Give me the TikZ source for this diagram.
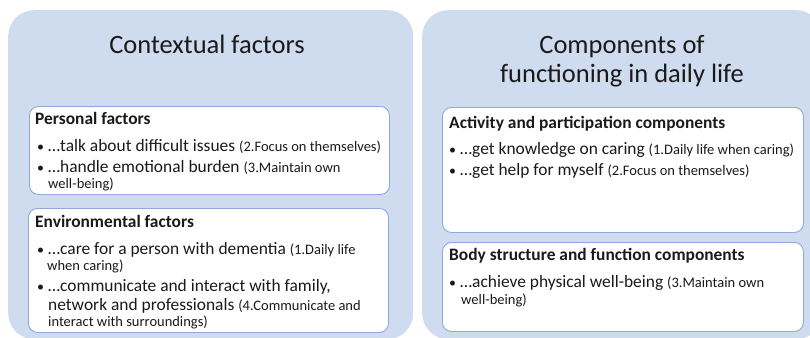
\documentclass[tikz,border=0pt]{standalone}
\usepackage{fontspec}
\setmainfont{Carlito}
\definecolor{panel}{HTML}{CFDBEE}
\definecolor{edge}{HTML}{8EA9DB}
\definecolor{ink}{HTML}{1A1A1A}
\newcommand\parsm[1]{{\fontsize{14.5}{17}\selectfont #1}}
\tikzset{
  panelbox/.style={fill=panel, draw=none, rounded corners=26pt, inner sep=0pt, anchor=north west},
  cardbox/.style={fill=white, draw=edge, line width=0.9pt, rounded corners=9pt, inner sep=0pt, anchor=north west},
  txt/.style={anchor=base west, inner sep=0pt, text=ink, font=\fontsize{17.4}{20}\selectfont},
  head/.style={txt, font=\fontsize{17.4}{20}\selectfont\bfseries},
  titletxt/.style={anchor=base, inner sep=0pt, text=ink, font=\fontsize{26.5}{30}\selectfont},
  bul/.style={anchor=base west, inner sep=0pt, text=ink, font=\fontsize{14}{16}\selectfont},
}
\begin{document}
\begin{tikzpicture}[x=1pt, y=-1pt]
\useasboundingbox (0,0) rectangle (810,337);
% panels
\node[panelbox, minimum width=405pt, minimum height=329pt] (pl) at (8,10) {};
\node[panelbox, minimum width=400pt, minimum height=329pt] (pr) at (422,10) {};
% left panel
\node[titletxt] (tl) at (207,53) {Contextual factors};
\node[cardbox, minimum width=360pt, minimum height=88pt] (cp) at (29,106) {};
\node[cardbox, minimum width=360pt, minimum height=124pt] (ce) at (28,208) {};
\node[head] (hp) at (35,124) {Personal factors};
\node[bul] (bp1) at (37,151) {•};
\node[txt] (tp1) at (48,151) {…talk about difficult issues \parsm{(2.Focus on themselves)}};
\node[bul] (bp2) at (37,172) {•};
\node[txt] (tp2) at (48,172) {…handle emotional burden \parsm{(3.Maintain own}};
\node[txt] (tp2b) at (48,188) {\parsm{well-being)}};
\node[head] (he) at (35,227) {Environmental factors};
\node[bul] (be1) at (37,254) {•};
\node[txt] (te1) at (48,254) {…care for a person with dementia \parsm{(1.Daily life}};
\node[txt] (te1b) at (47,270) {\parsm{when caring)}};
\node[bul] (be2) at (37,291) {•};
\node[txt] (te2) at (48,291) {…communicate and interact with family,};
\node[txt] (te2b) at (48,310) {network and professionals \parsm{(4.Communicate and}};
\node[txt] (te2c) at (48,326) {\parsm{interact with surroundings)}};
% right panel
\node[titletxt] (tr1) at (622,53) {Components of};
\node[titletxt] (tr2) at (622,82) {functioning in daily life};
\node[cardbox, minimum width=361pt, minimum height=125pt] (ca) at (442,107) {};
\node[cardbox, minimum width=361pt, minimum height=89pt] (cb) at (442,242) {};
\node[head] (ha) at (449,128) {Activity and participation components};
\node[bul] (ba1) at (449,154) {•};
\node[txt] (ta1) at (460,154) {…get knowledge on caring \parsm{(1.Daily life when caring)}};
\node[bul] (ba2) at (449,175) {•};
\node[txt] (ta2) at (460,175) {…get help for myself \parsm{(2.Focus on themselves)}};
\node[head] (hb) at (449,260) {Body structure and function components};
\node[bul] (bb1) at (449,287) {•};
\node[txt] (tb1) at (460,287) {…achieve physical well-being \parsm{(3.Maintain own}};
\node[txt] (tb1b) at (461,304) {\parsm{well-being)}};
\end{tikzpicture}
\end{document}
